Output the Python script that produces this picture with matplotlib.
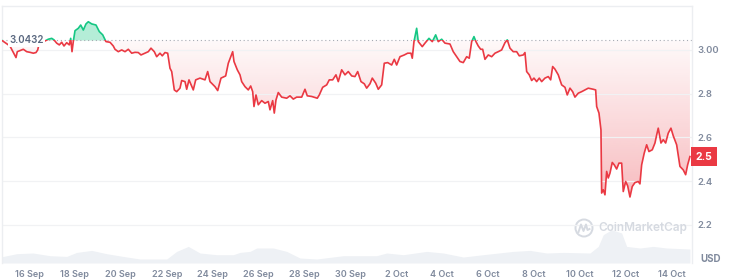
import matplotlib
matplotlib.use('Agg')
import matplotlib.pyplot as plt
import numpy as np
from matplotlib.patches import Circle, Rectangle
from matplotlib.lines import Line2D
from matplotlib.colors import to_rgb
import matplotlib.transforms as mtransforms

# price, days counted from 16 Sep 00:00
days = [-1.176, -0.83, -0.566, -0.51, -0.392, -0.248, -0.100, 0.044, 0.187, 0.305, 0.379, 0.449,
        0.553, 0.697, 0.841, 0.989, 1.089, 1.206, 1.320, 1.424, 1.524, 1.642, 1.755, 1.816,
        1.873, 1.929, 2.003, 2.147, 2.252, 2.365, 2.482, 2.583, 2.731, 2.918, 3.062, 3.210,
        3.353, 3.528, 3.671, 3.745, 3.889, 4.037, 4.181, 4.325, 4.473, 4.616, 4.760, 4.878,
        5.052, 5.196, 5.313, 5.457, 5.561, 5.705, 5.805, 5.923, 6.040, 6.141, 6.215, 6.328,
        6.432, 6.576, 6.650, 6.794, 6.868, 6.968, 7.155, 7.260, 7.447, 7.665, 7.782, 7.883,
        8.100, 8.218, 8.362, 8.566, 8.680, 8.871, 8.928, 9.072, 9.189, 9.263, 9.407, 9.551,
        9.655, 9.742, 9.799, 9.886, 9.986, 10.134, 10.278, 10.422, 10.496, 10.613, 10.683, 10.757,
        10.857, 11.005, 11.223, 11.367, 11.511, 11.658, 11.876, 12.020, 12.120, 12.312, 12.556, 12.643,
        12.791, 12.965, 13.078, 13.226, 13.370, 13.470, 13.618, 13.762, 13.906, 14.054, 14.197, 14.315,
        14.459, 14.603, 14.707, 14.851, 14.951, 15.099, 15.212, 15.360, 15.473, 15.621, 15.796, 15.909,
        16.013, 16.157, 16.345, 16.492, 16.636, 16.693, 16.767, 16.884, 16.954, 17.128, 17.246, 17.420,
        17.564, 17.712, 17.825, 17.973, 18.117, 18.335, 18.478, 18.626, 18.770, 18.914, 19.062, 19.175,
        19.280, 19.380, 19.467, 19.567, 19.672, 19.759, 19.859, 20.003, 20.151, 20.295, 20.438, 20.586,
        20.730, 20.830, 20.948, 21.091, 21.239, 21.353, 21.527, 21.601, 21.675, 21.788, 21.893, 21.993,
        22.110, 22.224, 22.328, 22.472, 22.615, 22.720, 22.807, 22.907, 23.051, 23.199, 23.343, 23.443,
        23.561, 23.678, 23.778, 23.922, 24.070, 24.214, 24.358, 24.576, 24.680, 24.724, 24.824, 24.911,
        24.941, 25.011, 25.085, 25.159, 25.229, 25.303, 25.403, 25.490, 25.594, 25.695, 25.812, 25.882,
        25.987, 26.074, 26.174, 26.274, 26.392, 26.535, 26.609, 26.683, 26.796, 26.901, 27.001, 27.145,
        27.263, 27.337, 27.406, 27.524, 27.624, 27.728, 27.841, 27.959, 28.059, 28.207, 28.351, 28.495,
        28.599, 28.686, 28.786]
price = [3.0432, 3.018, 2.965, 2.992, 2.997, 3.003, 2.992, 2.989, 2.985, 2.988, 3.000, 3.031,
         3.033, 3.041, 3.049, 3.053, 3.046, 3.031, 3.023, 3.035, 3.018, 3.033, 3.023, 3.053,
         2.992, 3.038, 3.088, 3.099, 3.114, 3.091, 3.119, 3.129, 3.119, 3.114, 3.084, 3.069,
         3.038, 3.035, 3.018, 3.003, 2.992, 3.000, 2.992, 3.003, 2.985, 2.989, 2.988, 2.977,
         2.985, 2.992, 3.008, 2.992, 2.969, 2.985, 2.973, 2.988, 2.985, 2.916, 2.901, 2.817,
         2.809, 2.825, 2.860, 2.855, 2.820, 2.863, 2.817, 2.863, 2.871, 2.863, 2.901, 2.855,
         2.832, 2.814, 2.871, 2.881, 2.939, 2.992, 2.947, 2.909, 2.886, 2.855, 2.832, 2.817,
         2.835, 2.809, 2.741, 2.794, 2.749, 2.768, 2.756, 2.764, 2.726, 2.768, 2.711, 2.771,
         2.805, 2.784, 2.779, 2.790, 2.775, 2.784, 2.784, 2.820, 2.790, 2.787, 2.779, 2.794,
         2.829, 2.840, 2.863, 2.863, 2.886, 2.855, 2.909, 2.886, 2.901, 2.881, 2.878, 2.901,
         2.855, 2.845, 2.825, 2.845, 2.871, 2.848, 2.820, 2.840, 2.939, 2.942, 2.931, 2.957,
         2.931, 2.969, 2.977, 2.985, 2.985, 2.962, 3.038, 3.099, 3.038, 3.015, 3.031, 3.053,
         3.038, 3.069, 3.038, 3.049, 3.031, 3.027, 2.992, 2.969, 2.947, 2.942, 2.969, 2.962,
         3.038, 3.061, 3.038, 3.018, 3.003, 3.003, 2.957, 2.977, 2.969, 2.985, 2.992, 3.000,
         3.033, 3.046, 3.008, 2.992, 2.992, 2.973, 2.977, 2.988, 2.901, 2.886, 2.860, 2.871,
         2.855, 2.871, 2.855, 2.871, 2.878, 2.863, 2.924, 2.912, 2.886, 2.840, 2.829, 2.794,
         2.825, 2.809, 2.784, 2.802, 2.809, 2.817, 2.825, 2.820, 2.817, 2.741, 2.711, 2.634,
         2.345, 2.360, 2.337, 2.444, 2.414, 2.436, 2.485, 2.474, 2.455, 2.482, 2.482, 2.352,
         2.398, 2.378, 2.327, 2.375, 2.393, 2.398, 2.387, 2.474, 2.528, 2.566, 2.535, 2.543,
         2.574, 2.611, 2.642, 2.574, 2.589, 2.574, 2.619, 2.642, 2.607, 2.566, 2.467, 2.451,
         2.429, 2.474, 2.512]

# volume (millions USD)
vol_days = [-1.176, -0.536, 0.174, 0.915, 1.642, 2.077, 2.731, 3.384, 4.094, 4.834, 5.997, 6.432,
            6.938, 7.447, 8.174, 8.897, 9.189, 9.625, 9.916, 10.639, 11.223, 11.802, 12.529, 13.688,
            15.142, 15.578, 16.301, 17.320, 18.043, 18.914, 19.785, 21.091, 21.819, 22.546, 23.269,
            24.432, 24.793, 25.011, 25.377, 25.812, 26.030, 26.609, 27.188, 27.772, 28.786]
volume = [126, 186, 200, 146, 132, 212, 252, 186, 132, 80, 80, 232,
          332, 200, 166, 166, 212, 232, 300, 300, 232, 100, 80, 146,
          146, 200, 166, 232, 200, 120, 166, 232, 252, 200, 212,
          200, 332, 566, 666, 600, 332, 300, 332, 300, 280]

x_ticks = [0, 2, 4, 6, 8, 10, 12, 14, 16, 18, 20, 22, 24, 26, 28]
x_labels = ['16 Sep', '18 Sep', '20 Sep', '22 Sep', '24 Sep', '26 Sep', '28 Sep', '30 Sep',
            '2 Oct', '4 Oct', '6 Oct', '8 Oct', '10 Oct', '12 Oct', '14 Oct']
y_ticks = [3.0, 2.8, 2.6, 2.4, 2.2]
y_labels = ['3.00', '2.8', '2.6', '2.4', '2.2']
open_price = 3.0432
open_label = '3.0432'
last_label = '2.5'

RED = '#ea3943'
GREEN = '#16c784'
GRAY = '#808a9d'
FONT = ['Inter', 'DejaVu Sans']

plt.rcParams['font.family'] = FONT

W, H = 729, 279
fig = plt.figure(figsize=(W / 100, H / 100), dpi=100)
pos = [2 / W, 16 / H, 690 / W, 257 / H]
xmin, xmax = -1.176, 28.876
ymin, ymax = 2.025, 3.201

# volume behind everything
vax = fig.add_axes(pos, zorder=0)
vax.fill_between(vol_days, volume, 0, color='#eef1f5', lw=0)
vax.set_xlim(xmin, xmax)
vax.set_ylim(0, 5140)
vax.axis('off')

ax = fig.add_axes(pos, zorder=1)
ax.patch.set_alpha(0)

d = np.array(days)
p = np.array(price)

# red gradient fill below the opening price
rows = np.linspace(open_price, 2.30, 256)
rgba = np.zeros((256, 1, 4))
rgba[..., :3] = to_rgb(RED)
rgba[:, 0, 3] = np.clip(0.03 + 0.43 * (open_price - rows), 0, 1)
im = ax.imshow(rgba, extent=[xmin, xmax, 2.30, open_price], aspect='auto',
               origin='upper', zorder=1, interpolation='bilinear')
poly = ax.fill_between(d, np.minimum(p, open_price), open_price, facecolor='none', edgecolor='none')
im.set_clip_path(poly.get_paths()[0], transform=ax.transData)

# green fill above
ax.fill_between(d, p, open_price, where=p >= open_price, interpolate=True,
                color=GREEN, alpha=0.32, lw=0, zorder=1)

# line split in two colours by clipping
red_line, = ax.plot(d, p, color=RED, lw=1.2, zorder=3)
red_line.set_clip_path(Rectangle((xmin, ymin), xmax - xmin, open_price - ymin, transform=ax.transData))
green_line, = ax.plot(d, p, color=GREEN, lw=1.2, zorder=3)
green_line.set_clip_path(Rectangle((xmin, open_price), xmax - xmin, ymax - open_price, transform=ax.transData))

ax.axhline(open_price, color='#a7abb3', lw=0.8, ls=(0, (1, 2.5)), zorder=2)

ax.set_xlim(xmin, xmax)
ax.set_ylim(ymin, ymax)
ax.set_xticks(x_ticks)
ax.set_xticklabels(x_labels)
ax.set_yticks(y_ticks)
ax.set_yticklabels(y_labels)
ax.yaxis.tick_right()
ax.tick_params(axis='x', length=0, pad=5, labelsize=6.5, labelcolor=GRAY)
ax.tick_params(axis='y', length=0, pad=4, labelsize=6.8, labelcolor=GRAY)
for lab in ax.get_xticklabels() + ax.get_yticklabels():
    lab.set_fontweight('semibold')
ax.grid(axis='y', color='#f1f2f4', lw=0.9, zorder=0)
for side in ['top', 'left', 'right']:
    ax.spines[side].set_color('#eceef1')
    ax.spines[side].set_linewidth(1)
ax.spines['bottom'].set_visible(False)

# opening price label
trans = mtransforms.blended_transform_factory(ax.transAxes, ax.transData)
ax.text(7 / 690, open_price, open_label, transform=trans, ha='left', va='center',
        fontsize=7, color='#58667e', fontweight='semibold', zorder=5,
        bbox=dict(boxstyle='square,pad=0.15', fc='white', ec='none'))

# last price tag
ax.text(1.0174, p[-1], last_label, transform=trans, ha='center', va='center',
        fontsize=7.5, color='white', fontweight='bold', clip_on=False, zorder=6,
        bbox=dict(boxstyle='square,pad=0.45', fc=RED, ec='none'))

fig.text(710.5 / W, 1 - 259 / H, 'USD', ha='center', va='center', fontsize=7,
         color=GRAY, fontweight='bold')

# watermark
wm = '#d6dae1'
fig.text(598 / W, 1 - 228 / H, 'CoinMarketCap', ha='left', va='center', fontsize=8.5,
         color=wm, fontweight='semibold')
fig.add_artist(Circle((5.84, 0.51), 0.085, transform=fig.dpi_scale_trans,
                      fill=False, ec=wm, lw=1.4))
fig.add_artist(Line2D([5.785, 5.81, 5.835, 5.86, 5.875, 5.895], [0.47, 0.545, 0.48, 0.545, 0.49, 0.50],
                      transform=fig.dpi_scale_trans, color=wm, lw=1.4))

fig.savefig('out.png', dpi=100)
